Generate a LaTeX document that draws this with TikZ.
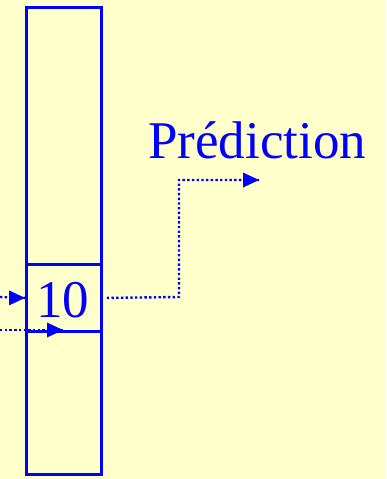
\documentclass[tikz,border=0pt]{standalone}
\usepackage{fontspec}
\setmainfont{Liberation Serif}
\usetikzlibrary{arrows.meta}
\definecolor{bgyellow}{HTML}{FFFFCC}
\definecolor{myblue}{HTML}{0000FF}
\begin{document}
\begin{tikzpicture}[x=1pt,y=-1pt,
  boxline/.style={draw=myblue,line width=2.8pt},
  dotline/.style={myblue,line width=2.4pt,dash pattern=on 2.4pt off 2.3pt},
  tip/.style={-{Triangle[length=16pt,width=15pt]}},
  lbl/.style={text=myblue,font=\fontsize{53}{60}\selectfont,inner sep=0pt,anchor=base west}]
\fill[bgyellow] (0,0) rectangle (386,479);
\useasboundingbox (0,0) rectangle (386,479);
\node[boxline,minimum width=75pt,minimum height=467pt,inner sep=0pt,anchor=north west] (col) at (25,6) {};
\node[boxline,minimum width=75pt,minimum height=67pt,inner sep=0pt,anchor=north west] (cell) at (25,263) {};
\node[lbl] (ten) at (36,317) {10};
\node[lbl] (pred) at (148,158) {Prédiction};
\coordinate (inA) at (0,297);
\coordinate (inB) at (0,330);
\coordinate (tipB) at (63,330);
\coordinate (corner1) at (179,297);
\coordinate (corner2) at (179,180);
\coordinate (outT) at (259,180);
\draw[dotline] (inA) -- (cell.west);
\draw[tip,myblue,line width=0pt] ([xshift=-16pt]cell.west) -- (cell.west);
\draw[dotline] (inB) -- (tipB);
\draw[tip,myblue,line width=0pt] ([xshift=-16pt]tipB) -- (tipB);
\draw[dotline] ([xshift=4pt]cell.east) -- (corner1) -- (corner2) -- (outT);
\draw[tip,myblue,line width=0pt] ([xshift=-16pt]outT) -- (outT);
\end{tikzpicture}
\end{document}
